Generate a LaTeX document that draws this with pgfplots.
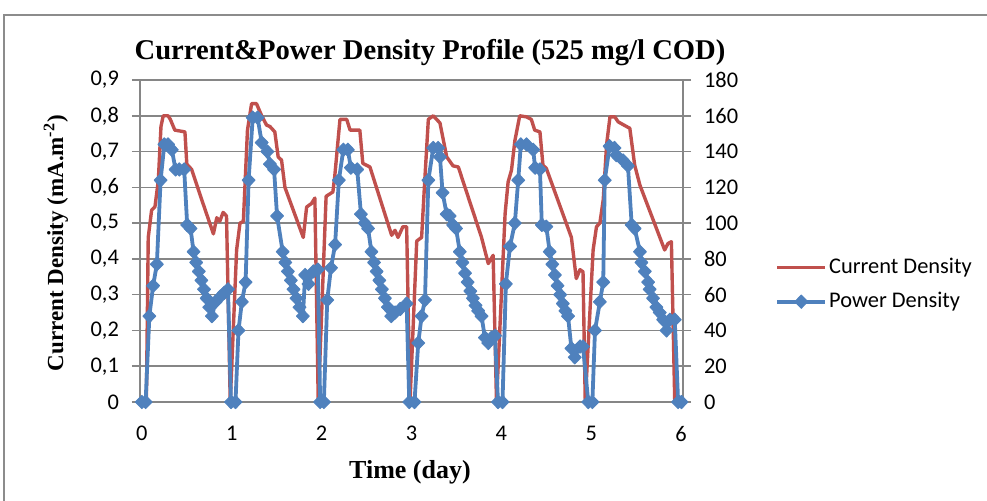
\documentclass[border=0pt]{standalone}
\usepackage{fontspec}
\setmainfont{Carlito}
\newfontfamily\serifb{Liberation Serif}
\usepackage{pgfplots}
\pgfplotsset{compat=1.18}
\definecolor{cred}{RGB}{192,80,77}
\definecolor{cblue}{RGB}{79,129,189}
\definecolor{gridgray}{RGB}{134,134,134}
\definecolor{framegray}{RGB}{140,140,140}
\begin{document}
\begin{tikzpicture}[x=1pt,y=1pt]
\pgfplotsset{
  base/.style={scale only axis, width=271.5pt, height=161pt,
    at={(70pt,49pt)}, anchor=south west,
    xmin=-0.5, xmax=144.5,
    font=\fontsize{11.2}{13}\selectfont,
    tick align=outside, major tick length=4pt,
    axis line style={gridgray, line width=0.75pt},
  }
}
\draw[framegray, line width=0.75pt] (2pt,-10pt) rectangle (510pt,242.5pt);
\begin{axis}[base, ymin=0, ymax=0.9,
  ytick={0,0.1,0.2,0.3,0.4,0.5,0.6,0.7,0.8,0.9},
  yticklabels={0,{0,1},{0,2},{0,3},{0,4},{0,5},{0,6},{0,7},{0,8},{0,9}},
  ytick pos=left,
  ytick style={gridgray, line width=0.75pt},
  ymajorgrids, grid style={gridgray, line width=0.75pt},
  xtick={0,24,48,72,96,120,144},
  xticklabels={0,1,2,3,4,5,6},
  xtick style={draw=none},
  xticklabel style={yshift=-4.5pt},
  yticklabel style={xshift=-3pt},
]
\addplot[cred, line width=1.7pt, mark=none, line join=round] coordinates {
(0,0) (1.2,0) (1.7,0.46) (2.6,0.536) (3.5,0.546) (4.4,0.62) (5.1,0.77) (5.7,0.80) (7.0,0.80) (7.6,0.79) (8.8,0.76) (11.5,0.755) (12.0,0.665) (13.3,0.65) (16.0,0.565) (19.1,0.47) (20.0,0.515) (20.8,0.505) (21.7,0.53) (22.6,0.52) (23.6,0)
(25.3,0.425) (26.2,0.50) (27.1,0.505) (28.2,0.76) (29.3,0.834) (30.6,0.834) (32.0,0.80) (33.3,0.774) (34.2,0.77) (35.5,0.755) (36.4,0.685) (37.3,0.676) (38.2,0.60) (43.1,0.46) (44.0,0.545) (45.3,0.555) (46.2,0.57) (47.1,0)
(49.2,0.575) (51.0,0.587) (51.5,0.63) (52.9,0.79) (54.7,0.79) (55.6,0.76) (58.2,0.76) (59.0,0.667) (60.9,0.657) (66.7,0.466) (67.6,0.48) (68.4,0.46) (69.7,0.49) (70.7,0.49) (71.6,0)
(73.4,0.45) (74.7,0.46) (75.6,0.63) (76.5,0.79) (77.8,0.80) (79.6,0.78) (81.4,0.685) (83.1,0.66) (84.5,0.657) (90.7,0.46) (92.5,0.387) (93.8,0.41) (94.7,0)
(97.0,0.527) (97.8,0.615) (98.7,0.648) (99.6,0.73) (100.9,0.80) (102.7,0.797) (104.0,0.79) (104.9,0.76) (106.3,0.755) (107.1,0.662) (108.0,0.653) (114.7,0.46) (116.0,0.345) (117.0,0.37) (117.8,0.364) (118.4,0)
(120.5,0.425) (121.4,0.49) (122.3,0.50) (123.2,0.565) (124.1,0.72) (125.0,0.797) (126.3,0.797) (127.2,0.783) (130.3,0.765) (131.6,0.662) (133.0,0.606) (139.6,0.425) (140.5,0.443) (141.4,0.448) (142.3,0) (144,0)
};
\end{axis}
\begin{axis}[base, ymin=0, ymax=180,
  axis y line*=right, axis x line=none,
  ytick={0,20,40,60,80,100,120,140,160,180},
  yticklabels={0,20,40,60,80,100,120,140,160,180},
  ytick style={gridgray, line width=0.75pt},
  yticklabel style={xshift=3pt},
  clip=false,
  legend style={at={(axis description cs:1.1694,0.365)}, anchor=west,
    draw=none, fill=none, inner sep=0pt, row sep=6pt,
    font=\fontsize{11.2}{13}\selectfont,
    nodes={inner sep=1pt}},
  legend cell align=left,
  legend image code/.code={\draw[mark repeat=2,mark phase=2,#1] plot coordinates {(0pt,0pt) (12pt,0pt) (24pt,0pt)};},
]
\addlegendimage{cred, line width=1.7pt}
\addlegendentry{Current Density}
\addplot[cblue, line width=1.9pt, line join=round, mark=diamond*, mark size=3.3pt, mark options={xscale=1.3, fill=cblue, draw=cblue, line width=0.5pt}] coordinates {
(0,0) (1,0) (2,48) (3,65) (4,77) (5,124) (6,144) (7,144) (8,141) (9,130) (10,130) (11.3,130) (12.1,99) (13,97) (13.8,84) (14.5,78) (15.2,73) (15.9,68) (16.6,63) (17.3,58) (18,53) (18.7,48) (19.7,56) (21,59) (22,61) (23,63) (23.8,0)
(25,0) (25.8,40) (26.7,56) (27.7,67) (28.5,124) (29.6,159) (30.9,159) (32,145) (33.5,140) (34.2,133) (35.3,130) (36.1,104) (37.6,84) (38.3,78) (39,73) (39.8,68) (40.5,63) (41.3,58) (42.1,53) (43,48) (43.6,71) (44.5,66) (45.8,73) (47,74) (47.6,0)
(48.6,0) (49.5,57) (50.5,75) (51.6,88) (52.6,124) (53.8,141) (55,141) (55.8,131) (57.5,130) (58.5,105) (59.5,100) (60.4,97) (61.3,84) (62,78) (62.7,73) (63.4,68) (64.1,63) (64.9,58) (65.7,53) (66.6,48) (67.6,50) (69,52) (70.7,55) (71.4,0)
(72.8,0) (73.8,33) (74.7,48) (75.6,57) (76.5,124) (77.8,142) (79.1,142) (79.6,137) (80.3,117) (81.4,105) (82.2,104) (83.1,99) (83.9,97) (84.9,84) (85.6,78) (86.3,72) (87,67) (87.7,62) (88.4,58) (89.1,54) (89.8,51) (90.7,48) (91.6,36) (92.5,33) (93.4,36) (94.3,37) (95.1,0)
(96.3,0) (97.2,66) (98.3,87) (99.6,100) (100.5,124) (101.2,144) (102.7,144) (104.5,141) (105,131) (106.3,130) (106.8,99) (108,98) (108.9,84) (109.6,77) (110.3,71) (111,65) (111.7,60) (112.4,55) (113.1,51) (113.8,48) (114.7,30) (115.6,25) (117,31) (117.8,31) (119.2,0)
(120.3,0) (121,40) (122.3,56) (123.2,67) (123.6,124) (124.9,143) (126.2,142) (126.7,138) (128.5,135) (129.8,132) (130.8,99) (131.6,97) (133,84) (133.4,78) (134.3,73) (135.2,67) (135.6,63) (136.5,58) (137.4,53) (138.3,50) (139.2,46) (140.1,40) (141,46) (142.3,46) (143.2,0) (144.1,0)
};
\addlegendentry{Power Density}
\end{axis}
\node[font=\serifb\bfseries\fontsize{14.3}{16}\selectfont] at (215pt,223.5pt) {Current\&Power Density Profile (525 mg/l COD)};
\node[rotate=90, font=\serifb\bfseries\fontsize{11.5}{13}\selectfont] at (28pt,128.5pt) {Current Density (mA.m\textsuperscript{-2})};
\node[font=\serifb\bfseries\fontsize{13}{15}\selectfont] at (205pt,14pt) {Time (day)};
\pgfresetboundingbox
\useasboundingbox (0pt,0pt) rectangle (493.5pt,250pt);
\end{tikzpicture}
\end{document}
